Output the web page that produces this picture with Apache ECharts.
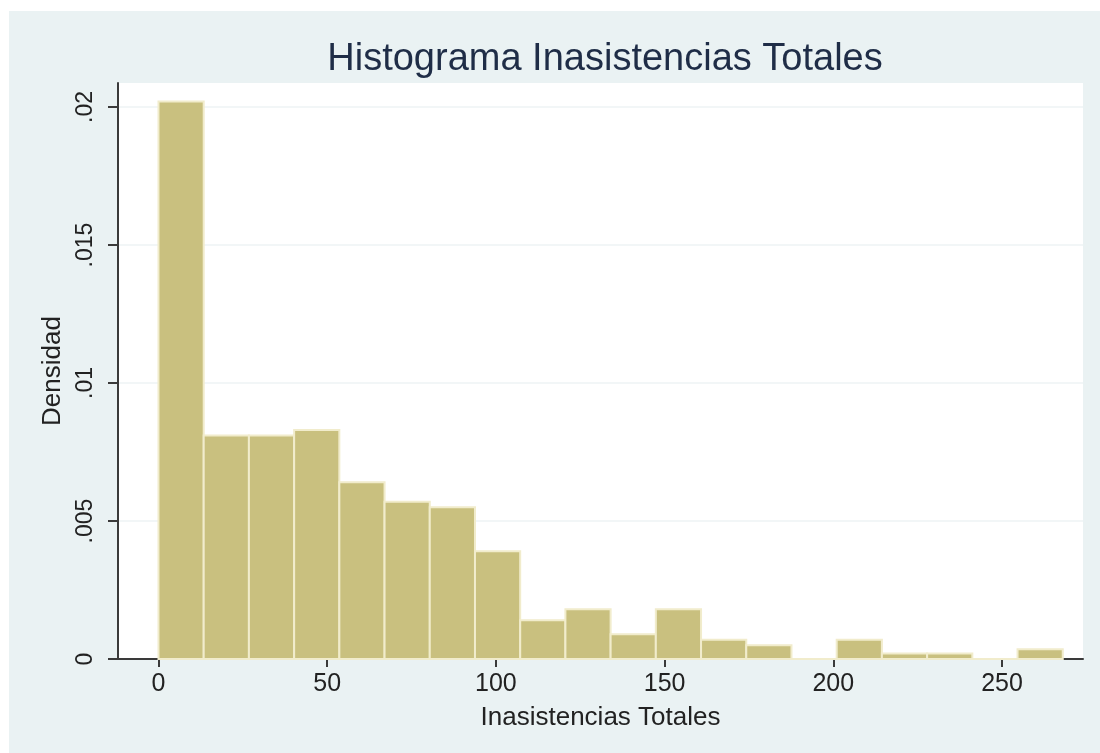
<!DOCTYPE html>
<html>
<head>
<meta charset="utf-8">
<title>Histograma Inasistencias Totales</title>
<script src="https://cdn.jsdelivr.net/npm/echarts@6/dist/echarts.min.js"></script>
<style>
    html, body { margin: 0; padding: 0; background: #ffffff; }
    #chart { position: absolute; left: 9px; top: 11px; width: 1091px; height: 742px; }
</style>
</head>
<body>
<div id="chart"></div>
<script>
    // bin edges (Inasistencias Totales) and density per bin
    var binStart = [0, 13.4, 26.8, 40.2, 53.6, 67, 80.4, 93.8, 107.2, 120.6,
        134, 147.4, 160.8, 174.2, 187.6, 201, 214.4, 227.8, 241.2, 254.6];
    var binEnd = [13.4, 26.8, 40.2, 53.6, 67, 80.4, 93.8, 107.2, 120.6, 134,
        147.4, 160.8, 174.2, 187.6, 201, 214.4, 227.8, 241.2, 254.6, 268];
    var density = [0.0202, 0.0081, 0.0081, 0.0083, 0.0064, 0.0057, 0.0055, 0.0039, 0.0014, 0.0018,
        0.0009, 0.0018, 0.0007, 0.0005, 0, 0.0007, 0.0002, 0.0002, 0, 0.00035];

    var xTicks = [0, 50, 100, 150, 200, 250];
    var yTicks = [0, 0.005, 0.01, 0.015, 0.02];

    var fontFamily = '"Liberation Sans", Arial, sans-serif';
    var axisColor = '#3a3a3a';

    var bars = binStart.map(function (s, i) {
        return [s, binEnd[i], density[i]];
    });

    var chart = echarts.init(document.getElementById('chart'), null, { renderer: 'canvas' });

    chart.setOption({
        backgroundColor: '#eaf2f3',
        animation: false,
        title: {
            text: 'Histograma Inasistencias Totales',
            left: 591,
            top: 25,
            textAlign: 'center',
            textStyle: {
                fontFamily: fontFamily,
                fontSize: 38,
                fontWeight: 'normal',
                color: '#1f2d47',
            },
        },
        grid: {
            left: 109,
            right: 17,
            top: 72,
            bottom: 94,
            show: true,
            backgroundColor: '#ffffff',
            borderWidth: 0,
            containLabel: false,
            outerBoundsMode: 'none',
        },
        xAxis: {
            type: 'value',
            min: -12,
            max: 274,
            name: 'Inasistencias Totales',
            nameLocation: 'middle',
            nameGap: 46,
            nameTextStyle: {
                fontFamily: fontFamily,
                fontSize: 26,
                color: '#222222',
            },
            axisLine: { show: true, onZero: false, lineStyle: { color: axisColor, width: 2 } },
            axisTick: {
                show: true,
                customValues: xTicks,
                length: 8,
                lineStyle: { color: axisColor, width: 2 },
            },
            axisLabel: {
                customValues: xTicks,
                margin: 13,
                fontFamily: fontFamily,
                fontSize: 25,
                color: '#222222',
            },
            splitLine: { show: false },
        },
        yAxis: {
            type: 'value',
            min: 0,
            max: 0.02087,
            name: 'Densidad',
            nameLocation: 'middle',
            nameGap: 52,
            nameRotate: 90,
            nameTextStyle: {
                fontFamily: fontFamily,
                fontSize: 26,
                color: '#222222',
            },
            axisLine: { show: true, onZero: false, lineStyle: { color: axisColor, width: 2 } },
            axisTick: {
                show: true,
                customValues: yTicks,
                length: 10,
                lineStyle: { color: axisColor, width: 2 },
            },
            axisLabel: {
                customValues: yTicks,
                rotate: 90,
                margin: 21,
                fontFamily: fontFamily,
                fontSize: 23,
                color: '#222222',
                formatter: function (v) {
                    if (v === 0) {
                        return '0';
                    }
                    return String(+v.toFixed(3)).replace(/^0/, '');
                },
            },
            splitLine: {
                show: true,
                lineStyle: { color: '#eef3f4', width: 1.5 },
            },
        },
        series: [
            {
                type: 'custom',
                data: bars,
                encode: { x: [0, 1], y: 2 },
                renderItem: function (params, api) {
                    var p0 = api.coord([api.value(0), 0]);
                    var p1 = api.coord([api.value(1), api.value(2)]);
                    return {
                        type: 'rect',
                        shape: {
                            x: p0[0],
                            y: p1[1],
                            width: p1[0] - p0[0],
                            height: p0[1] - p1[1],
                        },
                        style: {
                            fill: '#c9c07f',
                            stroke: '#f1eccc',
                            lineWidth: 2,
                        },
                    };
                },
            },
        ],
    });
</script>
</body>
</html>
